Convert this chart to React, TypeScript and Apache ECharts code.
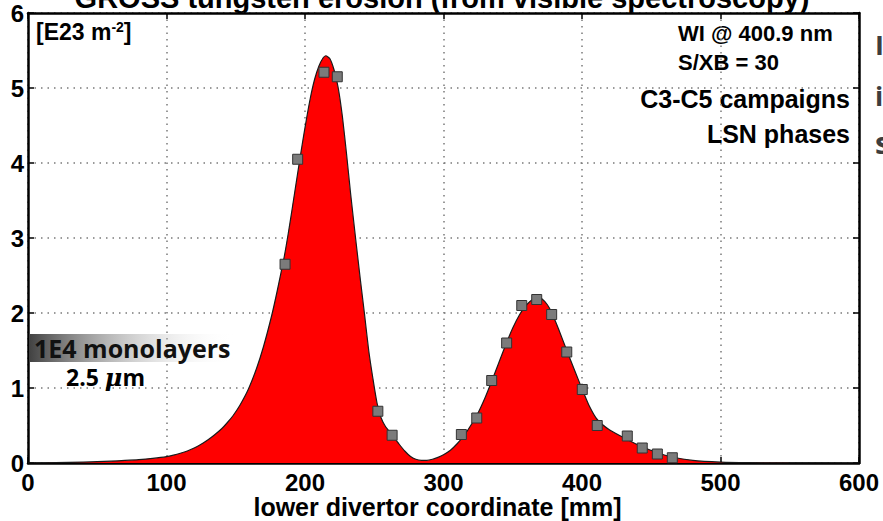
import { useEffect, useRef } from "react";
import * as echarts from "echarts";

// Fitted erosion profile (lower divertor coordinate [mm] -> gross W erosion [E23 m^-2])
const CURVE_X = [0, 20, 40, 60, 70, 80, 90, 100, 105, 110, 115, 120, 125, 130, 135, 140, 144, 148, 153, 159, 165, 170, 176, 180, 185, 188, 191, 195, 198, 201, 204, 207, 210, 213, 215, 218, 221, 224, 227, 230, 233, 237, 240, 243, 246, 249, 252, 255, 258, 263, 268, 272, 276, 280, 284, 288, 292, 296, 300, 305, 310, 315, 320, 325, 330, 335, 340, 345, 350, 355, 360, 365, 368, 371, 375, 378, 383, 389, 395, 400, 405, 411, 420, 433, 443, 454, 465, 480, 500, 520, 550, 600];
const CURVE_Y = [0, 0.005, 0.012, 0.025, 0.034, 0.045, 0.062, 0.085, 0.105, 0.13, 0.16, 0.2, 0.25, 0.31, 0.38, 0.46, 0.54, 0.63, 0.77, 0.98, 1.26, 1.55, 1.97, 2.3, 2.75, 3.07, 3.42, 3.9, 4.25, 4.58, 4.88, 5.12, 5.29, 5.4, 5.43, 5.39, 5.24, 5.0, 4.62, 4.12, 3.58, 2.92, 2.44, 1.98, 1.5, 1.13, 0.8, 0.6, 0.49, 0.37, 0.25, 0.16, 0.09, 0.05, 0.035, 0.035, 0.05, 0.075, 0.11, 0.17, 0.26, 0.37, 0.51, 0.67, 0.87, 1.1, 1.34, 1.58, 1.8, 1.98, 2.11, 2.19, 2.21, 2.19, 2.11, 2.01, 1.79, 1.5, 1.22, 0.99, 0.77, 0.58, 0.44, 0.31, 0.22, 0.14, 0.08, 0.035, 0.012, 0.004, 0.001, 0];

// Measured points (WI @ 400.9 nm)
const MEAS_X = [185.6, 194.7, 213.7, 223.3, 252.6, 262.9, 312.9, 324, 334.8, 345.6, 356.5, 367.3, 378.1, 389, 400.2, 411, 432.7, 443.5, 454.4, 465.2];
const MEAS_Y = [2.65, 4.05, 5.21, 5.15, 0.69, 0.37, 0.38, 0.6, 1.1, 1.6, 2.1, 2.18, 1.98, 1.48, 0.98, 0.5, 0.36, 0.2, 0.12, 0.07];

const X_MIN = 0;
const X_MAX = 600;
const X_STEP = 100;
const Y_MIN = 0;
const Y_MAX = 6;
const Y_STEP = 1;

const TITLE = "GROSS tungsten erosion (from visible spectroscopy)";
const X_NAME = "lower divertor coordinate [mm]";

const FONT = "'Liberation Sans', Arial, sans-serif";
const FONT2 = "'Open Sans', 'Noto Sans', sans-serif";

export default function App() {
  const ref = useRef<HTMLDivElement>(null);

  useEffect(() => {
    if (!ref.current) return;
    const chart = echarts.init(ref.current, null, { renderer: "svg" });

    const curve = CURVE_X.map((x, i) => [x, CURVE_Y[i]]);
    const meas = MEAS_X.map((x, i) => [x, MEAS_Y[i]]);

    const gridLine = {
      show: true,
      lineStyle: { color: "#7a7a7a", width: 1.5, type: [1.5, 5] as any },
    };
    const axisLine = { show: true, onZero: false, lineStyle: { color: "#000", width: 2.5 } };
    const axisTick = { show: true, inside: true, length: 6, lineStyle: { color: "#000", width: 1.5 } };

    chart.setOption({
      animation: false,
      backgroundColor: "#fff",
      grid: { left: 28, right: 24, top: 13, bottom: 58, containLabel: false, outerBoundsMode: "none" },
      xAxis: [
        {
          type: "value",
          min: X_MIN,
          max: X_MAX,
          interval: X_STEP,
          position: "bottom",
          name: X_NAME,
          nameLocation: "middle",
          nameGap: 33,
          nameMoveOverlap: false,
          nameTextStyle: { color: "#000", fontWeight: "bold", fontSize: 25, lineHeight: 22, fontFamily: FONT, padding: [0, 12, 0, 0] },
          axisLine,
          axisTick,
          axisLabel: { color: "#000", fontWeight: "bold", fontSize: 24, lineHeight: 20, fontFamily: FONT, margin: 9 },
          splitLine: gridLine,
        },
        {
          type: "value",
          min: X_MIN,
          max: X_MAX,
          interval: X_STEP,
          position: "top",
          axisLine,
          axisTick,
          axisLabel: { show: false },
          splitLine: { show: false },
        },
      ],
      yAxis: [
        {
          type: "value",
          min: Y_MIN,
          max: Y_MAX,
          interval: Y_STEP,
          position: "left",
          axisLine,
          axisTick,
          axisLabel: { color: "#000", fontWeight: "bold", fontSize: 24, fontFamily: FONT, margin: 4 },
          splitLine: gridLine,
        },
        {
          type: "value",
          min: Y_MIN,
          max: Y_MAX,
          interval: Y_STEP,
          position: "right",
          axisLine,
          axisTick,
          axisLabel: { show: false },
          splitLine: { show: false },
        },
      ],
      series: [
        {
          type: "line",
          data: curve,
          showSymbol: false,
          smooth: 0.2,
          lineStyle: { color: "#1a1a1a", width: 1.2, join: "round" },
          areaStyle: { color: "#ff0000", opacity: 1 },
          z: 2,
        },
        {
          type: "scatter",
          data: meas,
          symbol: "rect",
          symbolSize: 10,
          itemStyle: { color: "#7b7b7b", borderColor: "#333", borderWidth: 1, opacity: 1 },
          z: 5,
        },
      ],
      graphic: [
        {
          type: "text",
          x: 442,
          y: 12,
          style: {
            text: TITLE,
            fill: "#000",
            font: `bold 29px ${FONT}`,
            align: "center",
            verticalAlign: "bottom",
          },
        },
        {
          type: "text",
          x: 36,
          y: 32,
          style: {
            text: "{a|[E23 m}{s|-2}{a|]}",
            verticalAlign: "middle",
            rich: {
              a: { fontSize: 23, fontWeight: "bold", fontFamily: FONT, color: "#000" },
              s: { fontSize: 14, fontWeight: "bold", fontFamily: FONT, color: "#000", padding: [0, 0, 10, 0] },
            },
          },
        },
        {
          type: "text",
          x: 678,
          y: 33,
          style: { text: "WI @ 400.9 nm", fill: "#000", font: `bold 22px ${FONT}`, verticalAlign: "middle" },
        },
        {
          type: "text",
          x: 678,
          y: 62,
          style: { text: "S/XB = 30", fill: "#000", font: `bold 22px ${FONT}`, verticalAlign: "middle" },
        },
        {
          type: "text",
          x: 850,
          y: 99,
          style: { text: "C3-C5 campaigns", fill: "#000", font: `bold 25px ${FONT}`, align: "right", verticalAlign: "middle" },
        },
        {
          type: "text",
          x: 850,
          y: 134,
          style: { text: "LSN phases", fill: "#000", font: `bold 25px ${FONT}`, align: "right", verticalAlign: "middle" },
        },
        {
          type: "rect",
          shape: { x: 29, y: 334, width: 205, height: 28 },
          style: {
            fill: new echarts.graphic.LinearGradient(0, 0, 1, 0, [
              { offset: 0, color: "rgba(65,65,65,1)" },
              { offset: 1, color: "rgba(255,255,255,0)" },
            ]),
          },
          z: 10,
        },
        {
          type: "text",
          x: 34,
          y: 348,
          z: 11,
          style: { text: "1E4 monolayers", fill: "#111", font: `bold 25px ${FONT2}`, verticalAlign: "middle", lineHeight: 22 },
        },
        {
          type: "text",
          x: 66,
          y: 377,
          z: 11,
          style: {
            text: "{a|2.5 }{b|μ}{a|m}",
            verticalAlign: "middle",
            rich: {
              a: { fontSize: 23, fontWeight: "bold", fontFamily: FONT2, color: "#000", lineHeight: 22 },
              b: { fontSize: 24, fontWeight: "bold", fontStyle: "italic", fontFamily: "'DejaVu Serif', serif", color: "#000", lineHeight: 22 },
            },
          },
        },
        {
          type: "text",
          x: 875,
          y: 44,
          style: { text: "I", fill: "#3d3d3d", font: `bold 27px ${FONT2}`, verticalAlign: "middle" },
        },
        {
          type: "text",
          x: 875,
          y: 95,
          style: { text: "i", fill: "#3d3d3d", font: `bold 27px ${FONT2}`, verticalAlign: "middle" },
        },
        {
          type: "text",
          x: 875,
          y: 142,
          style: { text: "s", fill: "#3d3d3d", font: `bold 30px ${FONT2}`, verticalAlign: "middle" },
        },
      ],
    });

    return () => chart.dispose();
  }, []);

  return (
    <div
      ref={ref}
      style={{ position: "fixed", left: 0, top: 0, width: 883, height: 521, background: "#fff" }}
    />
  );
}
